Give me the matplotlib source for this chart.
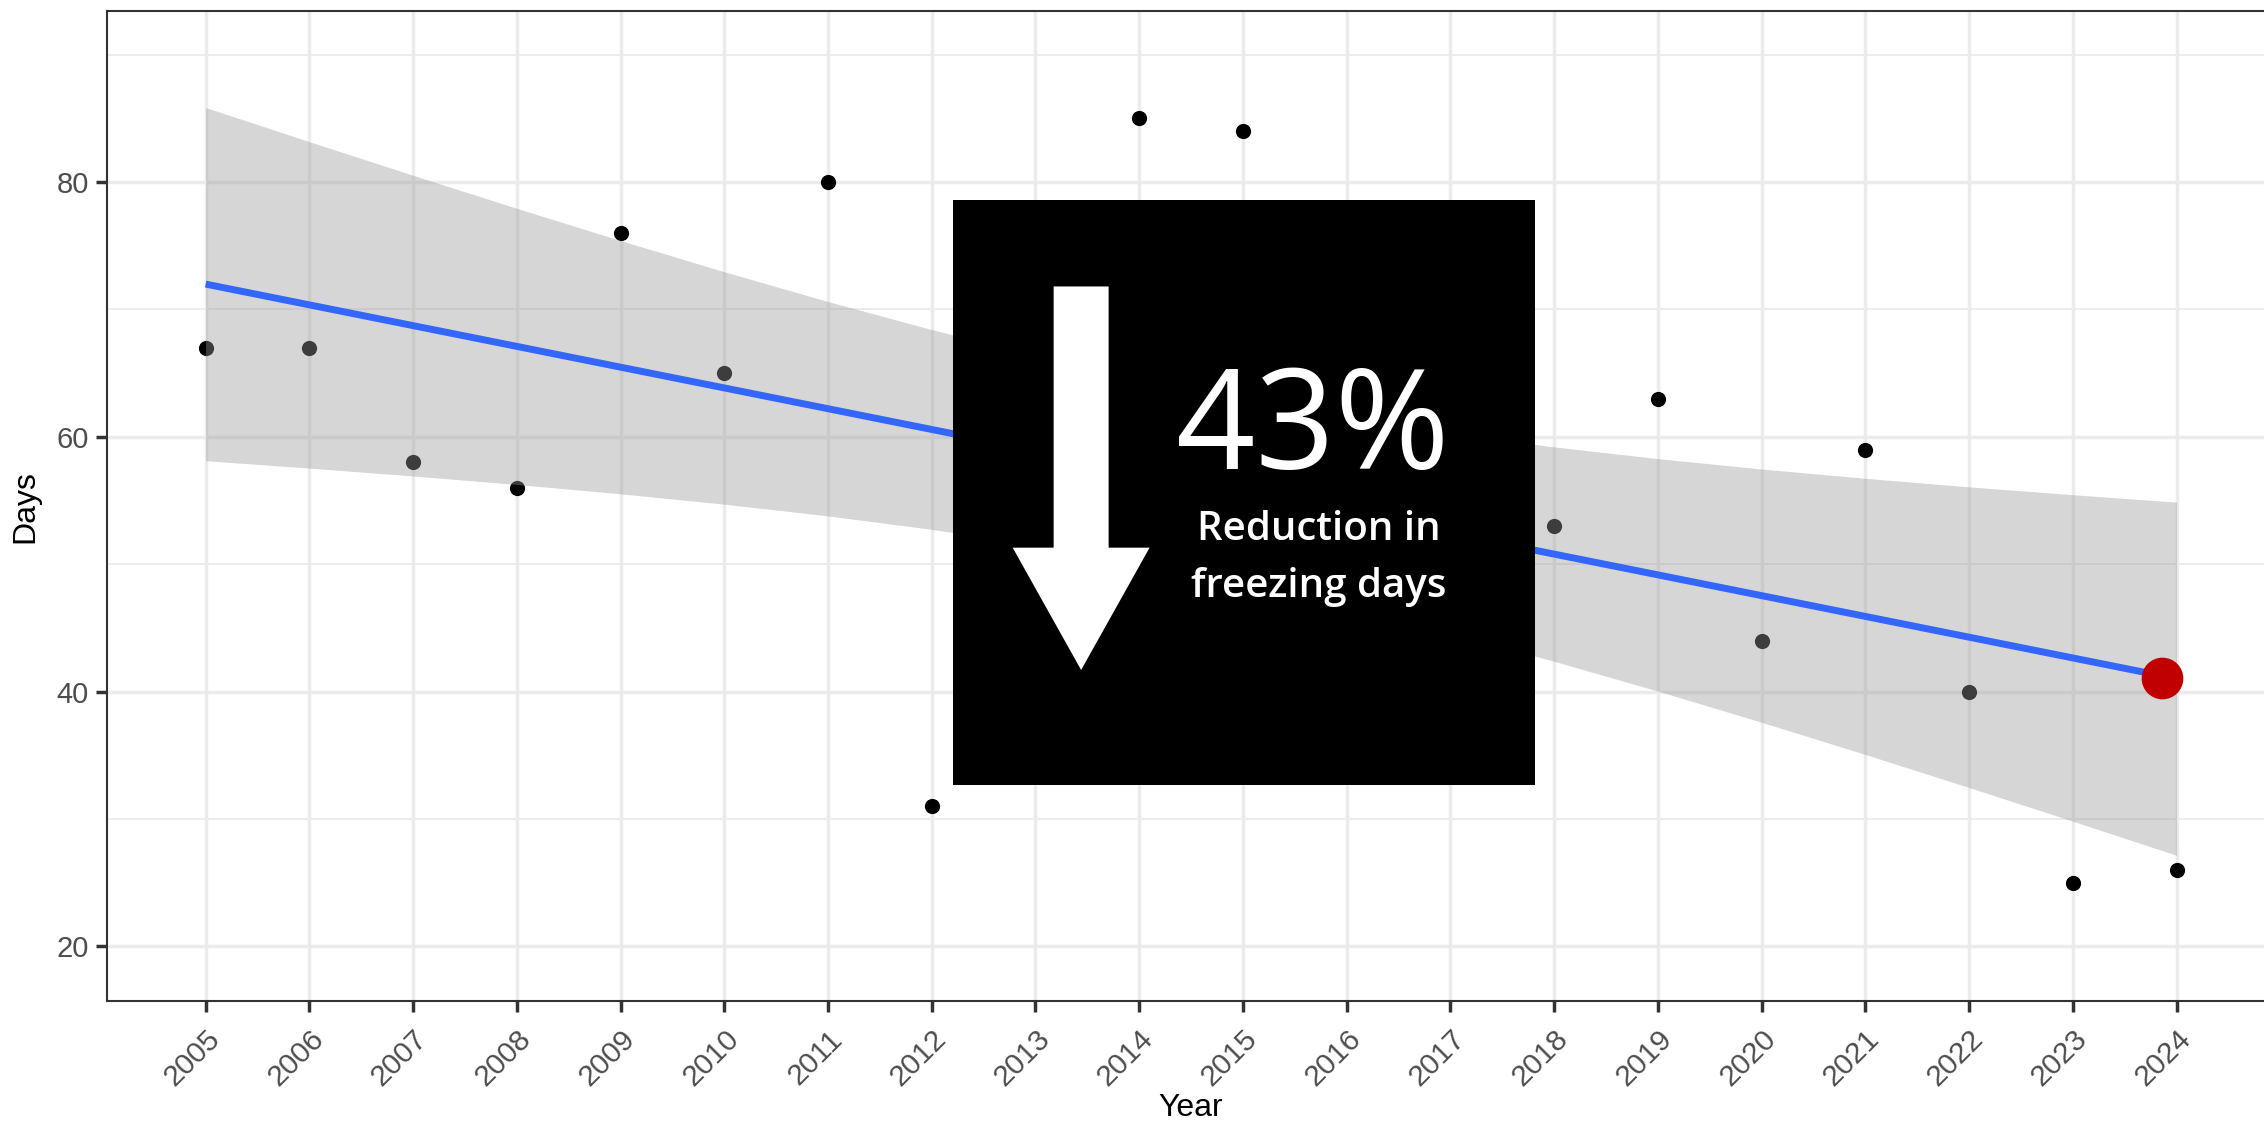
"""Freezing days per year with a linear trend and a callout box."""

import numpy as np
import matplotlib.pyplot as plt
from matplotlib.patches import FancyArrow, Rectangle

years = list(range(2005, 2025))
days = [67, 67, 58, 56, 76, 65, 80, 31, 48, 85, 84, 50, 53, 53, 63, 44, 59, 40, 25, 26]
year_ticks = list(range(2005, 2025))
day_ticks = [20, 40, 60, 80]

highlight_year = 2023.86
highlight_days = 41.1

callout_pct = "43%"
callout_lines = ["Reduction in", "freezing days"]

T975_DF18 = 2.101  # t quantile for a 95% band, n - 2 = 18

plt.rcParams["font.family"] = ["Liberation Sans", "DejaVu Sans"]


def main() -> None:
    x = np.array(years, dtype=float)
    y = np.array(days, dtype=float)

    # lm fit + 95% confidence band, like geom_smooth(method="lm")
    slope, intercept = np.polyfit(x, y, 1)
    fit = intercept + slope * x
    n = len(x)
    sigma = np.sqrt(np.sum((y - fit) ** 2) / (n - 2))
    sxx = np.sum((x - x.mean()) ** 2)
    se = sigma * np.sqrt(1 / n + (x - x.mean()) ** 2 / sxx)
    lo, hi = fit - T975_DF18 * se, fit + T975_DF18 * se

    fig = plt.figure(figsize=(22.64, 11.25), dpi=100)
    ax = fig.add_axes([0.0473, 0.110, 0.9576, 0.880])

    ax.scatter(x, y, s=120, color="black", zorder=2, linewidths=0)
    ax.fill_between(x, lo, hi, color="#999999", alpha=0.4, linewidth=0, zorder=3)
    ax.plot(x, fit, color="#3366FF", lw=5, zorder=4, solid_capstyle="butt")
    ax.scatter([highlight_year], [highlight_days], s=900, color="#C00000",
               zorder=5, linewidths=0)

    ax.set_xlim(2004.05, 2024.95)
    ax.set_ylim(15.7, 93.4)
    ax.set_xticks(year_ticks)
    ax.set_xticklabels([str(v) for v in year_ticks], rotation=45, ha="right",
                       va="top", rotation_mode="anchor")
    ax.set_yticks(day_ticks)
    ax.set_yticks([30, 50, 70, 90], minor=True)
    ax.tick_params(axis="both", which="major", labelcolor="#4D4D4D",
                   color="#333333", length=8, width=2.5)
    ax.tick_params(axis="x", which="major", labelsize=21.5, pad=9)
    ax.tick_params(axis="y", which="major", labelsize=21, pad=5)
    ax.tick_params(axis="y", which="minor", length=0)
    ax.grid(True, which="major", color="#EBEBEB", lw=2.5, zorder=0)
    ax.grid(True, which="minor", axis="y", color="#EBEBEB", lw=1.3, zorder=0)
    ax.set_axisbelow(True)
    for s in ax.spines.values():
        s.set_color("#333333")
        s.set_linewidth(1.5)

    ax.set_xlabel("Year", fontsize=23, labelpad=1)
    ax.set_ylabel("Days", fontsize=23, labelpad=12)

    # callout box
    ax.add_patch(Rectangle((2012.2, 32.7), 5.62, 45.9, facecolor="black",
                           edgecolor="none", zorder=10))
    ax.add_patch(FancyArrow(2013.44, 71.8, 0, -30.1, width=0.53, head_width=1.32,
                            head_length=9.6, length_includes_head=True,
                            color="white", lw=0, zorder=11))
    ax.text(2015.67, 57.5, callout_pct, color="white", fontsize=100,
            family="Open Sans", ha="center", va="baseline", zorder=12)
    for line, yb in zip(callout_lines, [51.9, 47.4]):
        ax.text(2015.73, yb, line, color="white", fontsize=29,
                family="Open Sans", weight="semibold", ha="center",
                va="baseline", zorder=12)

    fig.savefig("out.png", dpi=100)


if __name__ == "__main__":
    main()
